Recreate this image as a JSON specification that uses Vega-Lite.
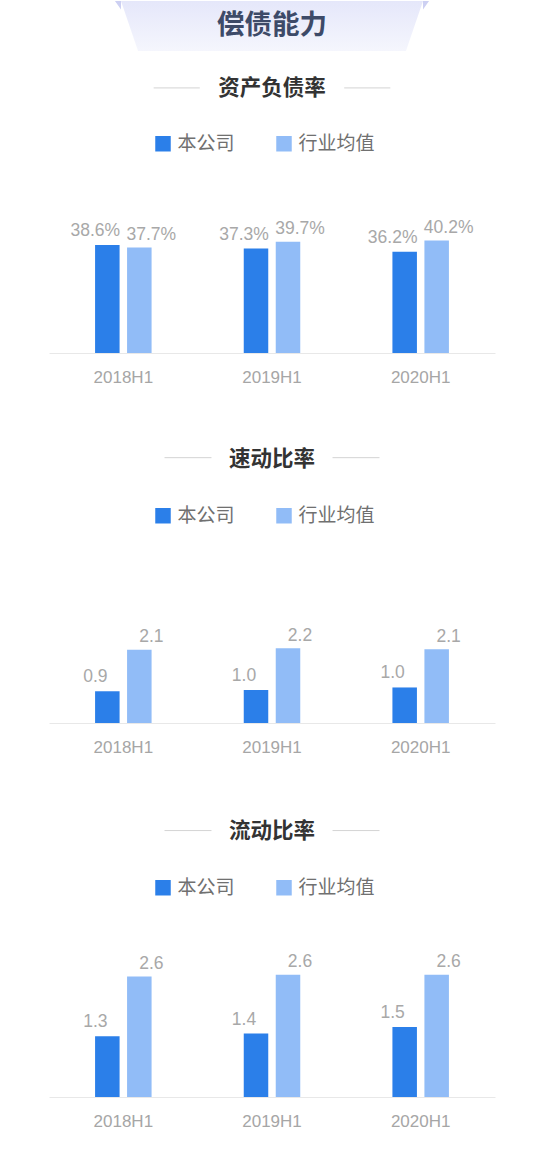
{
  "$schema": "https://vega.github.io/schema/vega-lite/v6.json",
  "padding": {"left": 49, "right": 55, "top": 0, "bottom": 0},
  "background": "white",
  "spacing": 0,
  "config": {
    "view": {"stroke": null},
    "font": "Noto Sans CJK SC",
    "concat": {"spacing": 0}
  },
  "datasets": {
    "debt": [
      {"period": "2018H1", "series": "本公司", "value": 0.386},
      {"period": "2018H1", "series": "行业均值", "value": 0.377},
      {"period": "2019H1", "series": "本公司", "value": 0.373},
      {"period": "2019H1", "series": "行业均值", "value": 0.397},
      {"period": "2020H1", "series": "本公司", "value": 0.362},
      {"period": "2020H1", "series": "行业均值", "value": 0.402}
    ],
    "quick": [
      {"period": "2018H1", "series": "本公司", "value": 0.92},
      {"period": "2018H1", "series": "行业均值", "value": 2.12},
      {"period": "2019H1", "series": "本公司", "value": 0.96},
      {"period": "2019H1", "series": "行业均值", "value": 2.17},
      {"period": "2020H1", "series": "本公司", "value": 1.03},
      {"period": "2020H1", "series": "行业均值", "value": 2.14}
    ],
    "current": [
      {"period": "2018H1", "series": "本公司", "value": 1.3},
      {"period": "2018H1", "series": "行业均值", "value": 2.58},
      {"period": "2019H1", "series": "本公司", "value": 1.36},
      {"period": "2019H1", "series": "行业均值", "value": 2.62},
      {"period": "2020H1", "series": "本公司", "value": 1.5},
      {"period": "2020H1", "series": "行业均值", "value": 2.62}
    ]
  },
  "vconcat": [
    {
      "data": {"values": [{"label": "偿债能力"}]},
      "width": 446,
      "height": 50,
      "layer": [
        {
          "mark": {
            "type": "point",
            "shape": "M -1 -0.1656 L 1 -0.1656 L 0.887 0.1656 L -0.887 0.1656 Z",
            "size": 91204,
            "filled": true,
            "opacity": 1,
            "strokeWidth": 0,
            "fill": {
              "gradient": "linear",
              "x1": 0, "y1": 0, "x2": 0, "y2": 1,
              "stops": [
                {"offset": 0, "color": "#e5e7fa"},
                {"offset": 1, "color": "#f5f6fd"}
              ]
            }
          }
        },
        {
          "mark": {
            "type": "point",
            "shape": "M -1.04 -0.1656 L -1 -0.1656 L -1 -0.11 Z M 1.04 -0.1656 L 1 -0.1656 L 1 -0.11 Z",
            "size": 91204,
            "filled": true,
            "opacity": 1,
            "strokeWidth": 0,
            "fill": "#cdd0f2"
          }
        },
        {
          "mark": {"type": "text", "font": "Noto Sans CJK SC", "fontSize": 27.5, "fontWeight": "bold", "color": "#3d4a68", "dy": 0},
          "encoding": {"text": {"field": "label"}}
        }
      ]
    },
    {
      "data": {"values": [{"heading": "资产负债率"}]},
      "width": 446,
      "height": 73,
      "layer": [
        {
          "mark": {"type": "point", "shape": "M -1 -0.005 L -0.61 -0.005 M 0.61 -0.005 L 1 -0.005", "size": 56027, "filled": false, "opacity": 1, "stroke": "#d4d4d4", "strokeWidth": 1}
        },
        {
          "mark": {"type": "text", "font": "Noto Sans CJK SC", "fontSize": 21.5, "fontWeight": "bold", "color": "#333333", "baseline": "middle", "dy": 0},
          "encoding": {"text": {"field": "heading"}}
        }
      ]
    },
    {
      "data": {"name": "debt"},
      "width": 446,
      "height": 140,
      "encoding": {
        "x": {"field": "period", "type": "nominal", "sort": null, "scale": {"paddingInner": 0.1895, "paddingOuter": 0.0947},
          "axis": {"title": null, "labelAngle": 0, "ticks": false, "tickSize": 0, "grid": false, "domainColor": "#e8e8e8", "domainWidth": 1, "labelColor": "#a6a6a6", "labelFont": "Liberation Sans", "labelFontSize": 17, "labelPadding": 16}},
        "xOffset": {"field": "series", "type": "nominal", "sort": ["本公司", "行业均值"], "scale": {"paddingInner": 0.234, "paddingOuter": 1}},
        "y": {"field": "value", "type": "quantitative", "scale": {"domain": [0, 0.5]}, "axis": null}
      },
      "layer": [
        {
          "mark": {"type": "bar"},
          "encoding": {
            "color": {"field": "series", "type": "nominal", "scale": {"domain": ["本公司", "行业均值"], "range": ["#2b7fe9", "#91bcf7"]},
              "legend": {"orient": "none", "legendX": 95.5, "legendY": -88, "direction": "horizontal", "title": null, "symbolType": "square", "symbolSize": 240, "symbolStrokeWidth": 0, "labelFont": "Noto Sans CJK SC", "labelFontSize": 19, "labelColor": "#707070", "labelOffset": 5, "columnPadding": 39, "padding": 9, "labelLimit": 200}}
          }
        },
        {
          "transform": [{"filter": "datum.series === '本公司'"}],
          "mark": {"type": "text", "dx": -12, "dy": -9, "baseline": "alphabetic", "font": "Liberation Sans", "fontSize": 17.5, "color": "#a8a8a8"},
          "encoding": {"text": {"field": "value", "format": ".1%"}}
        },
        {
          "transform": [{"filter": "datum.series === '行业均值'"}],
          "mark": {"type": "text", "dx": 12, "dy": -7.5, "baseline": "alphabetic", "font": "Liberation Sans", "fontSize": 17.5, "color": "#a8a8a8"},
          "encoding": {"text": {"field": "value", "format": ".1%"}}
        }
      ]
    },
    {
      "data": {"values": [{"heading": "速动比率"}]},
      "width": 446,
      "height": 112,
      "layer": [
        {
          "mark": {"type": "point", "shape": "M -1 0.155 L -0.563 0.155 M 0.563 0.155 L 1 0.155", "size": 46225, "filled": false, "opacity": 1, "stroke": "#d4d4d4", "strokeWidth": 1}
        },
        {
          "mark": {"type": "text", "font": "Noto Sans CJK SC", "fontSize": 21.5, "fontWeight": "bold", "color": "#333333", "baseline": "middle", "dy": 19},
          "encoding": {"text": {"field": "heading"}}
        }
      ]
    },
    {
      "data": {"name": "quick"},
      "width": 446,
      "height": 138,
      "encoding": {
        "x": {"field": "period", "type": "nominal", "sort": null, "scale": {"paddingInner": 0.1895, "paddingOuter": 0.0947},
          "axis": {"title": null, "labelAngle": 0, "ticks": false, "tickSize": 0, "grid": false, "domainColor": "#e8e8e8", "domainWidth": 1, "labelColor": "#a6a6a6", "labelFont": "Liberation Sans", "labelFontSize": 17, "labelPadding": 16}},
        "xOffset": {"field": "series", "type": "nominal", "sort": ["本公司", "行业均值"], "scale": {"paddingInner": 0.234, "paddingOuter": 1}},
        "y": {"field": "value", "type": "quantitative", "scale": {"domain": [0, 4]}, "axis": null}
      },
      "layer": [
        {
          "mark": {"type": "bar"},
          "encoding": {
            "color": {"field": "series", "type": "nominal", "scale": {"domain": ["本公司", "行业均值"], "range": ["#2b7fe9", "#91bcf7"]},
              "legend": {"orient": "none", "legendX": 95.5, "legendY": -88, "direction": "horizontal", "title": null, "symbolType": "square", "symbolSize": 240, "symbolStrokeWidth": 0, "labelFont": "Noto Sans CJK SC", "labelFontSize": 19, "labelColor": "#707070", "labelOffset": 5, "columnPadding": 39, "padding": 9, "labelLimit": 200}}
          }
        },
        {
          "transform": [{"filter": "datum.series === '本公司'"}],
          "mark": {"type": "text", "dx": -12, "dy": -9, "baseline": "alphabetic", "font": "Liberation Sans", "fontSize": 17.5, "color": "#a8a8a8"},
          "encoding": {"text": {"field": "value", "format": ".1f"}}
        },
        {
          "transform": [{"filter": "datum.series === '行业均值'"}],
          "mark": {"type": "text", "dx": 12, "dy": -7.5, "baseline": "alphabetic", "font": "Liberation Sans", "fontSize": 17.5, "color": "#a8a8a8"},
          "encoding": {"text": {"field": "value", "format": ".1f"}}
        }
      ]
    },
    {
      "data": {"values": [{"heading": "流动比率"}]},
      "width": 446,
      "height": 113.5,
      "layer": [
        {
          "mark": {"type": "point", "shape": "M -1 0.175 L -0.563 0.175 M 0.563 0.175 L 1 0.175", "size": 46225, "filled": false, "opacity": 1, "stroke": "#d4d4d4", "strokeWidth": 1}
        },
        {
          "mark": {"type": "text", "font": "Noto Sans CJK SC", "fontSize": 21.5, "fontWeight": "bold", "color": "#333333", "baseline": "middle", "dy": 20.5},
          "encoding": {"text": {"field": "heading"}}
        }
      ]
    },
    {
      "data": {"name": "current"},
      "width": 446,
      "height": 140,
      "encoding": {
        "x": {"field": "period", "type": "nominal", "sort": null, "scale": {"paddingInner": 0.1895, "paddingOuter": 0.0947},
          "axis": {"title": null, "labelAngle": 0, "ticks": false, "tickSize": 0, "grid": false, "domainColor": "#e8e8e8", "domainWidth": 1, "labelColor": "#a6a6a6", "labelFont": "Liberation Sans", "labelFontSize": 17, "labelPadding": 16}},
        "xOffset": {"field": "series", "type": "nominal", "sort": ["本公司", "行业均值"], "scale": {"paddingInner": 0.234, "paddingOuter": 1}},
        "y": {"field": "value", "type": "quantitative", "scale": {"domain": [0, 3]}, "axis": null}
      },
      "layer": [
        {
          "mark": {"type": "bar"},
          "encoding": {
            "color": {"field": "series", "type": "nominal", "scale": {"domain": ["本公司", "行业均值"], "range": ["#2b7fe9", "#91bcf7"]},
              "legend": {"orient": "none", "legendX": 95.5, "legendY": -88, "direction": "horizontal", "title": null, "symbolType": "square", "symbolSize": 240, "symbolStrokeWidth": 0, "labelFont": "Noto Sans CJK SC", "labelFontSize": 19, "labelColor": "#707070", "labelOffset": 5, "columnPadding": 39, "padding": 9, "labelLimit": 200}}
          }
        },
        {
          "transform": [{"filter": "datum.series === '本公司'"}],
          "mark": {"type": "text", "dx": -12, "dy": -9, "baseline": "alphabetic", "font": "Liberation Sans", "fontSize": 17.5, "color": "#a8a8a8"},
          "encoding": {"text": {"field": "value", "format": ".1f"}}
        },
        {
          "transform": [{"filter": "datum.series === '行业均值'"}],
          "mark": {"type": "text", "dx": 12, "dy": -7.5, "baseline": "alphabetic", "font": "Liberation Sans", "fontSize": 17.5, "color": "#a8a8a8"},
          "encoding": {"text": {"field": "value", "format": ".1f"}}
        }
      ]
    }
  ],
  "resolve": {
    "scale": {"x": "independent", "y": "independent", "xOffset": "independent", "color": "independent"},
    "legend": {"color": "independent"}
  }
}
